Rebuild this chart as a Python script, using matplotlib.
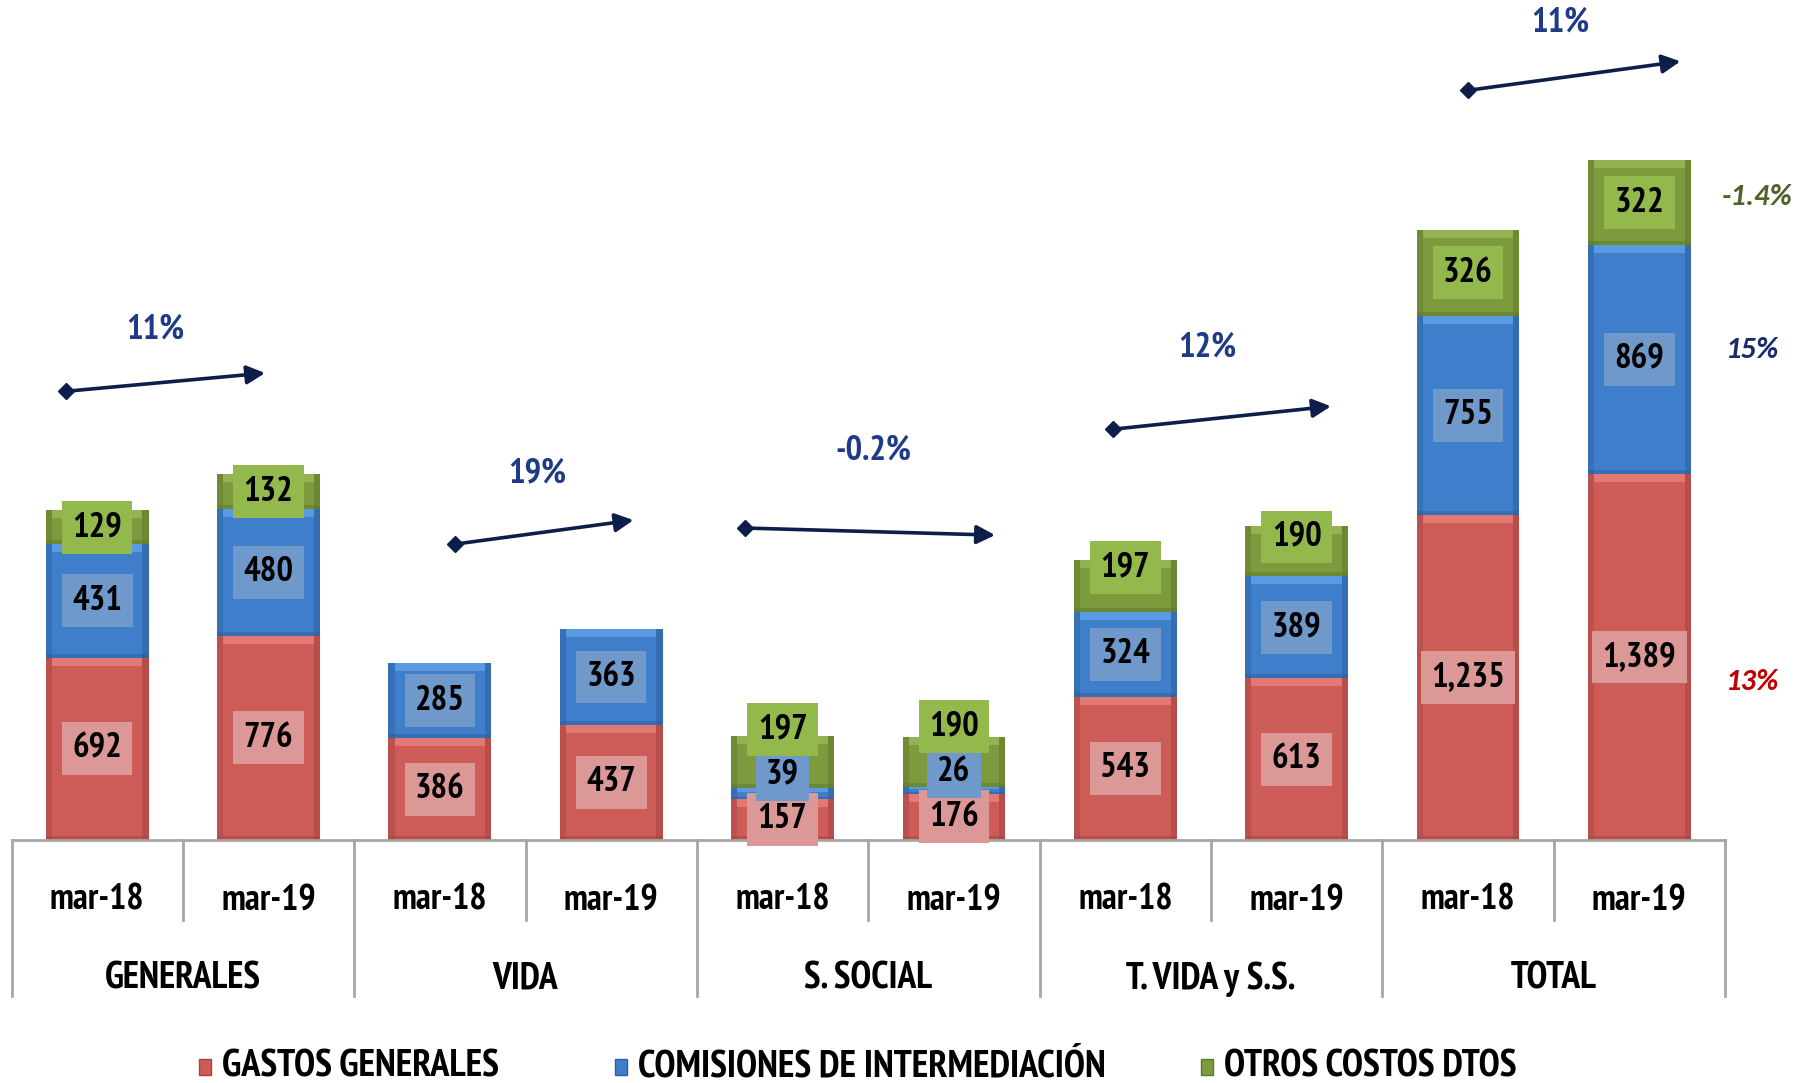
import matplotlib
matplotlib.use('Agg')
import matplotlib.pyplot as plt
from matplotlib import font_manager
from matplotlib.patches import Rectangle

# ---------------- data ----------------
groups = ['GENERALES', 'VIDA', 'S. SOCIAL', 'T. VIDA y S.S.', 'TOTAL']
periods = ['mar-18', 'mar-19']
series_names = ['GASTOS GENERALES', 'COMISIONES DE INTERMEDIACIÓN', 'OTROS COSTOS DTOS']
gastos = [692, 776, 386, 437, 157, 176, 543, 613, 1235, 1389]
comisiones = [431, 480, 285, 363, 39, 26, 324, 389, 755, 869]
otros = [129, 132, 0, 0, 197, 190, 197, 190, 326, 322]
group_growth = ['11%', '19%', '-0.2%', '12%', '11%']
series_growth = ['13%', '15%', '-1.4%']

# ---------------- fonts ----------------
_fl = font_manager.fontManager.ttflist


def pick(cands, default):
    for c in cands:
        if any(f.name == c and (isinstance(f.weight, str) or f.weight >= 600) for f in _fl):
            return c
    for c in cands:
        if any(f.name == c for f in _fl):
            return c
    return default


NARROW = pick(['Liberation Sans Narrow', 'Arial Narrow', 'PT Sans Narrow', 'Roboto Condensed',
               'Archivo Narrow', 'Barlow Semi Condensed'], 'Liberation Sans')
ITALF = pick(['Carlito', 'Calibri', 'Lato'], 'DejaVu Sans')
FAM = [NARROW, 'DejaVu Sans']
ITAL = [ITALF, 'DejaVu Sans']

face = ['#CD5B57', '#3F7ECB', '#7E9A3E']
light = ['#F4938F', '#6FB3F2', '#A9C766']
dark = ['#A8433F', '#2D5F9F', '#5F7A2B']
boxc = ['#DB9896', '#6F98CB', '#93B84B']
NAVY = '#1F3A87'
ARROW = '#0E1E4A'

W, H = 1804, 1083
AX_BOTTOM_PX = 840.0
PX_PER_UNIT = 0.2635
YTOP = AX_BOTTOM_PX / PX_PER_UNIT


def px2y(py):
    return (AX_BOTTOM_PX - py) / PX_PER_UNIT


fig = plt.figure(figsize=(W / 100, H / 100), dpi=100)
left_px, right_px = 11.5, 1725.0
ax = fig.add_axes([left_px / W, 1 - AX_BOTTOM_PX / H, (right_px - left_px) / W, AX_BOTTOM_PX / H])
n = len(gastos)
x = list(range(n))
ax.set_xlim(-0.5, n - 0.5)
ax.set_ylim(0, YTOP)
ax.axis('off')

BW = 0.6
series = [gastos, comisiones, otros]
bottoms = [0] * n
for s, vals in enumerate(series):
    ax.bar(x, vals, bottom=bottoms, width=BW, color=face[s], edgecolor='none', zorder=2)
    for i in x:
        v = vals[i]
        b = bottoms[i]
        if v > 0:
            xl = i - BW / 2
            sw = BW * 0.06
            ax.add_patch(Rectangle((xl, b), sw, v, color=dark[s], alpha=0.45, lw=0, zorder=3))
            ax.add_patch(Rectangle((xl + BW - sw, b), sw, v, color=dark[s], alpha=0.55, lw=0, zorder=3))
            th = min(v * 0.35, 8 / PX_PER_UNIT)
            ax.add_patch(Rectangle((xl + sw, b + v - th), BW - 2 * sw, th, color=light[s], alpha=0.55, lw=0, zorder=3))
            bh = min(v * 0.2, 4 / PX_PER_UNIT)
            ax.add_patch(Rectangle((xl, b), BW, bh, color=dark[s], alpha=0.5, lw=0, zorder=3))
    bottoms = [bottoms[i] + vals[i] for i in x]

# ---- value labels with overlap avoidance ----
MIN_SEP = 45 / PX_PER_UNIT
nudge_px = {(2, 6): 18, (2, 7): 14}
label_y = {}
for i in x:
    prev = None
    b = 0
    for s, vals in enumerate(series):
        v = vals[i]
        if v > 0:
            c = b + v / 2
            if prev is not None:
                c = max(c, prev + MIN_SEP)
            c += nudge_px.get((s, i), 0) / PX_PER_UNIT
            label_y[(s, i)] = c
            prev = c
        b += v

for s, vals in enumerate(series):
    for i in x:
        if (s, i) in label_y:
            ax.text(i, label_y[(s, i)], f'{vals[i]:,}', ha='center', va='center',
                    fontsize=25, fontweight='bold', family=FAM, color='black', zorder=6,
                    bbox=dict(boxstyle='square,pad=0.3', fc=boxc[s], ec='none'))

# ---- category axis ----
GRAY = '#A6A6A6'
ax.plot([-0.5, n - 0.5], [0, 0], color=GRAY, lw=2, clip_on=False, zorder=4)
y_in, y_out = px2y(920), px2y(996)
for k in range(n + 1):
    xb = k - 0.5
    ye = y_out if k % 2 == 0 else y_in
    ax.plot([xb, xb], [0, ye], color=GRAY, lw=2, clip_on=False, zorder=1)
for i in x:
    ax.text(i, px2y(900), periods[i % 2], ha='center', va='center', fontsize=26,
            fontweight='bold', family=FAM, clip_on=False)
for g, name in enumerate(groups):
    ax.text(2 * g + 0.5, px2y(979), name, ha='center', va='center', fontsize=27,
            fontweight='bold', family=FAM, clip_on=False)

# ---- growth arrows and labels ----
arrows = [(-0.18, 1703, 0.98, 1772), (2.09, 1123, 3.13, 1214), (3.78, 1184, 5.24, 1157),
          (5.93, 1559, 7.20, 1646), (8.00, 2845, 9.24, 2955)]
growth_pos = [(0.34, 1939), (2.57, 1392), (4.53, 1480), (6.48, 1870), (8.54, 3103)]
for (x0, y0, x1, y1), (tx, ty), lab in zip(arrows, growth_pos, group_growth):
    ax.annotate('', xy=(x1, y1), xytext=(x0, y0),
                arrowprops=dict(arrowstyle='-|>,head_length=0.55,head_width=0.28', color=ARROW,
                                lw=2.6, shrinkA=0, shrinkB=0, mutation_scale=20), zorder=5)
    ax.plot([x0], [y0], marker='D', ms=8, color=ARROW, zorder=5, clip_on=False)
    ax.text(tx, ty, lab, ha='center', va='center', fontsize=25, fontweight='bold',
            family=FAM, color=NAVY, clip_on=False)

right_pos = [(9.66, 599), (9.66, 1859), (9.69, 2439)]
right_col = ['#C00000', '#1B2A6B', '#4F6228']
for (tx, ty), lab, col in zip(right_pos, series_growth, right_col):
    ax.text(tx, ty, lab, ha='center', va='center', fontsize=22, fontweight='bold',
            style='italic', family=ITAL, color=col, clip_on=False)

# ---- legend ----
leg_marker_px = [205, 621, 1207]
leg_text_px = [222, 638, 1224]
LEG_Y = 1067
for s in range(3):
    mx = leg_marker_px[s]
    fig.add_artist(Rectangle(((mx - 6) / W, 1 - (LEG_Y + 8) / H), 12 / W, 16 / H,
                             transform=fig.transFigure, fc=face[s], ec=dark[s], lw=1))
    fig.text(leg_text_px[s] / W, 1 - LEG_Y / H, series_names[s], ha='left', va='center',
             fontsize=27.5, fontweight='bold', family=FAM)

fig.savefig('out.png', dpi=100)
